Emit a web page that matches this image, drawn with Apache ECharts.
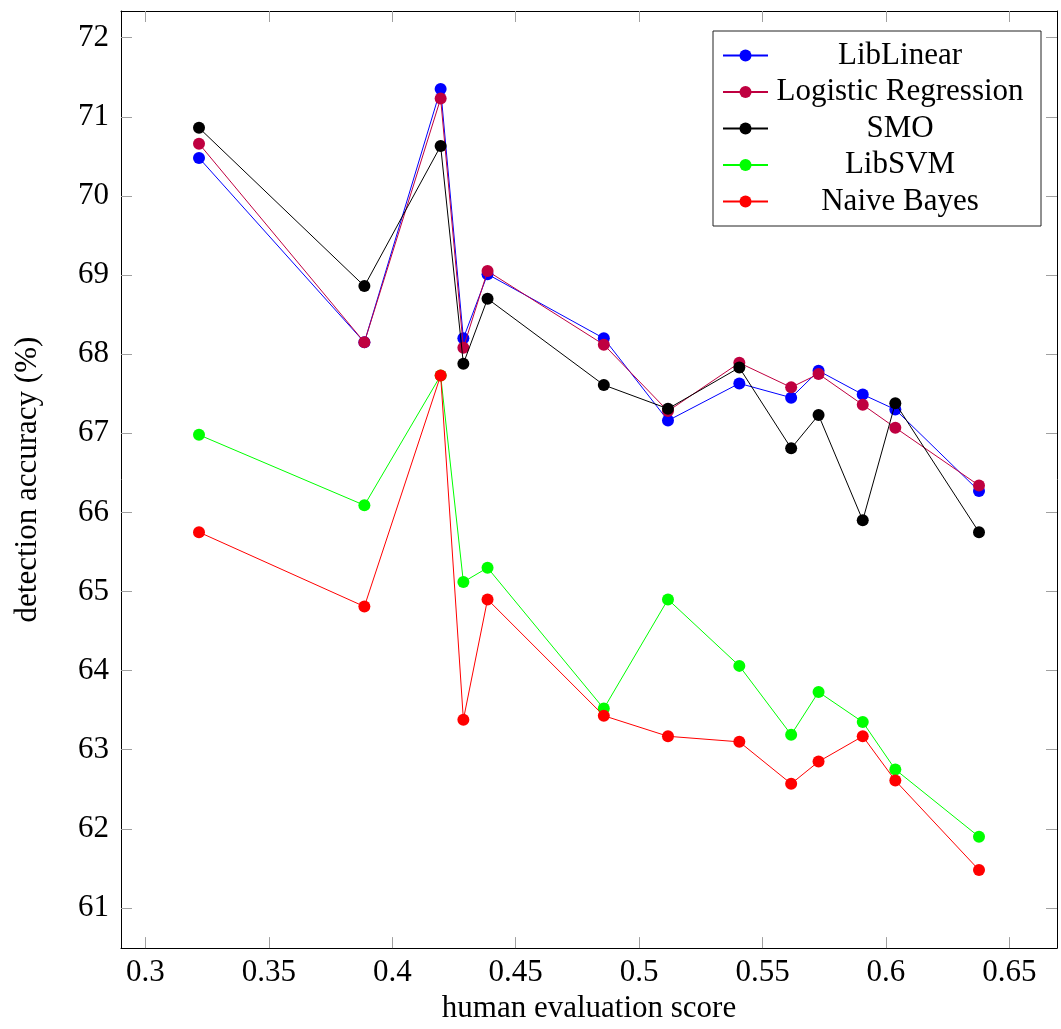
<!DOCTYPE html>
<html>
<head>
<meta charset="utf-8">
<title>detection accuracy vs human evaluation score</title>
<script src="https://cdn.jsdelivr.net/npm/echarts@6/dist/echarts.min.js"></script>
<style>
  html, body { margin: 0; padding: 0; background: #fff; }
  #chart { width: 1061px; height: 1029px; }
</style>
</head>
<body>
<div id="chart"></div>
<script>
// human evaluation score of each feature set (x)
const scores = [0.3217, 0.3887, 0.4196, 0.4288, 0.4386, 0.4857, 0.5117, 0.5406, 0.5616, 0.5727, 0.5906, 0.6038, 0.6377];

// detection accuracy (%) per classifier
const libLinear  = [70.48, 68.15, 71.35, 68.20, 69.01, 68.20, 67.16, 67.63, 67.45, 67.79, 67.49, 67.30, 66.27];
const logistic   = [70.66, 68.15, 71.23, 68.08, 69.05, 68.12, 67.28, 67.89, 67.58, 67.75, 67.36, 67.07, 66.34];
const smo        = [70.86, 68.86, 70.63, 67.88, 68.70, 67.61, 67.31, 67.83, 66.81, 67.23, 65.90, 67.38, 65.75];
const libSVM     = [66.98, 66.09, 67.73, 65.12, 65.30, 63.52, 64.90, 64.06, 63.19, 63.73, 63.35, 62.75, 61.90];
const naiveBayes = [65.75, 64.81, 67.73, 63.38, 64.90, 63.43, 63.17, 63.10, 62.57, 62.85, 63.17, 62.61, 61.48];

const seriesNames = ['LibLinear', 'Logistic Regression', 'SMO', 'LibSVM', 'Naive Bayes'];
const seriesColors = ['#0000ff', '#bf0040', '#000000', '#00ff00', '#ff0000'];

// tick labels
const xTicks = [0.3, 0.35, 0.4, 0.45, 0.5, 0.55, 0.6, 0.65];
const yTicks = [61, 62, 63, 64, 65, 66, 67, 68, 69, 70, 71, 72];

const seriesValues = [libLinear, logistic, smo, libSVM, naiveBayes];

// axis limits: data range widened by 10% on each side
function enlarged(values) {
  const lo = Math.min(...values), hi = Math.max(...values);
  const pad = (hi - lo) * 0.1;
  return [lo - pad, hi + pad];
}
const [xMin, xMax] = enlarged(scores);
const [yMin, yMax] = enlarged([].concat(...seriesValues));

const FONT = 'Liberation Serif';
const FRAME = '#000';
const TICK = '#a0a0a0';

function frameAxis(extra) {
  return Object.assign({
    type: 'value',
    axisLine: { show: true, onZero: false, lineStyle: { color: FRAME, width: 1 } },
    splitLine: { show: false },
  }, extra);
}

const chart = echarts.init(document.getElementById('chart'), null, { renderer: 'canvas' });

chart.setOption({
  animation: false,
  backgroundColor: '#fff',
  grid: { left: 121, top: 11, right: 4, bottom: 79, containLabel: false },
  legend: {
    orient: 'vertical',
    left: 713,
    top: 31,
    padding: [9, 14, 9, 9],
    backgroundColor: '#fff',
    borderColor: '#222',
    borderWidth: 1,
    itemWidth: 45,
    itemHeight: 15,
    itemGap: 5.5,
    data: seriesNames,
    formatter: name => '{n|' + name + '}',
    textStyle: {
      fontFamily: FONT, fontSize: 31, color: '#000',
      rich: { n: { width: 254, align: 'center', fontFamily: FONT, fontSize: 31, lineHeight: 30, color: '#000' } }
    }
  },
  xAxis: [
    frameAxis({
      position: 'bottom', min: xMin, max: xMax,
      name: 'human evaluation score', nameLocation: 'middle', nameGap: 43,
      nameTextStyle: { fontFamily: FONT, fontSize: 31, color: '#000' },
      axisTick: { show: true, inside: true, length: 11, lineStyle: { color: TICK }, customValues: xTicks },
      axisLabel: { show: true, margin: 9, fontFamily: FONT, fontSize: 31, color: '#000', customValues: xTicks,
                   showMinLabel: true, showMaxLabel: true }
    }),
    frameAxis({
      position: 'top', min: xMin, max: xMax,
      axisTick: { show: true, inside: true, length: 11, lineStyle: { color: TICK }, customValues: xTicks },
      axisLabel: { show: false }
    })
  ],
  yAxis: [
    frameAxis({
      position: 'left', min: yMin, max: yMax,
      name: 'detection accuracy (%)', nameLocation: 'middle', nameGap: 78,
      nameTextStyle: { fontFamily: FONT, fontSize: 31, color: '#000' },
      axisTick: { show: true, inside: true, length: 11, lineStyle: { color: TICK }, customValues: yTicks },
      axisLabel: { show: true, margin: 12, fontFamily: FONT, fontSize: 31, color: '#000', customValues: yTicks,
                   showMinLabel: true, showMaxLabel: true }
    }),
    frameAxis({
      position: 'right', min: yMin, max: yMax,
      axisTick: { show: true, inside: true, length: 11, lineStyle: { color: TICK }, customValues: yTicks },
      axisLabel: { show: false }
    })
  ],
  series: seriesNames.map((name, i) => ({
    name: name,
    type: 'line',
    xAxisIndex: 0,
    yAxisIndex: 0,
    data: scores.map((s, k) => [s, seriesValues[i][k]]),
    symbol: 'circle',
    symbolSize: 12,
    showAllSymbol: true,
    lineStyle: { color: seriesColors[i], width: 1 },
    itemStyle: { color: seriesColors[i] },
    emphasis: { disabled: true },
    z: 2 + i
  }))
});
</script>
</body>
</html>
